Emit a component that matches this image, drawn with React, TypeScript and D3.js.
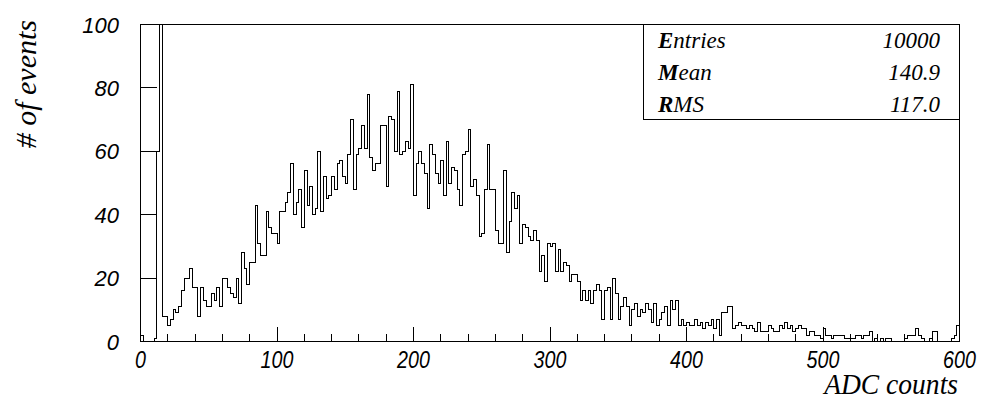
import React from "react";
import * as d3 from "d3";

// Histogram: 300 bins of width 2 on [0, 600]
const xRange = [0, 600];
const binWidth = 2;
const binCounts = [
  2, 0, 0, 0, 0, 1, 60, 3300, 8, 8,
  5, 7, 10, 9, 11, 16, 20, 20, 23, 17,
  17, 8, 17, 13, 11, 11, 15, 13, 17, 11,
  20, 20, 17, 15, 14, 20, 12, 28, 23, 18,
  25, 25, 43, 31, 27, 27, 41, 36, 34, 34,
  31, 41, 41, 44, 47, 56, 40, 44, 48, 36,
  54, 43, 49, 40, 42, 60, 41, 52, 45, 46,
  52, 48, 56, 57, 52, 50, 59, 70, 48, 59,
  61, 68, 61, 78, 58, 54, 56, 56, 68, 68,
  49, 71, 70, 60, 79, 59, 60, 63, 61, 81,
  46, 56, 60, 56, 53, 42, 62, 59, 53, 50,
  57, 46, 63, 50, 55, 54, 48, 43, 59, 60,
  67, 49, 51, 46, 33, 34, 48, 62, 48, 48,
  35, 31, 31, 54, 28, 38, 47, 42, 46, 31,
  37, 36, 33, 32, 35, 32, 22, 27, 19, 31,
  30, 31, 22, 29, 22, 25, 24, 19, 21, 21,
  19, 13, 16, 13, 16, 12, 16, 18, 16, 7,
  16, 17, 7, 20, 15, 7, 11, 14, 11, 5,
  10, 12, 8, 10, 9, 12, 10, 6, 12, 5,
  7, 9, 11, 5, 13, 10, 13, 5, 7, 5,
  6, 5, 5, 7, 5, 6, 4, 6, 5, 7,
  4, 7, 2, 9, 9, 11, 11, 4, 5, 6,
  5, 5, 4, 5, 4, 3, 6, 3, 3, 3,
  5, 4, 3, 3, 5, 4, 6, 4, 5, 3,
  4, 5, 4, 4, 2, 3, 3, 2, 2, 1,
  4, 2, 2, 1, 2, 2, 2, 2, 1, 1,
  1, 1, 2, 2, 1, 2, 2, 3, 0, 1,
  0, 1, 0, 1, 1, 0, 0, 0, 0, 0,
  1, 2, 2, 2, 4, 2, 1, 0, 0, 1,
  3, 3, 0, 0, 0, 0, 0, 1, 2, 5,
];

const yRange = [0, 100];
const xTickValues = [0, 100, 200, 300, 400, 500, 600];
const xMinorStep = 20;
const yTickValues = [0, 20, 40, 60, 80, 100];
const statNames = ["Entries", "Mean", "RMS"];
const statValues = ["10000", "140.9", "117.0"];
const xTitle = "ADC counts";
const yTitle = "# of events";

export default function App() {
  const W = 984;
  const H = 401;
  const left = 140.5;
  const right = 959.5;
  const top = 24.5;
  const bottom = 341.5;

  const x = d3.scaleLinear().domain(xRange).range([left, right]);
  const y = d3.scaleLinear().domain(yRange).range([bottom, top]);

  let path = `M${x(0)},${y(0)}`;
  binCounts.forEach((c, i) => {
    const x1 = x((i + 1) * binWidth);
    path += `V${y(c)}H${x1}`;
  });
  path += `V${y(0)}`;

  const minorTicks = d3.range(xRange[0], xRange[1] + 0.001, xMinorStep);

  const sansItalic = { fontFamily: "'Liberation Sans', Arial, sans-serif", fontStyle: "italic" as const };
  const serifItalic = { fontFamily: "'Liberation Serif', 'Times New Roman', serif", fontStyle: "italic" as const };

  const boxLeft = 643.5;
  const boxBottom = 119.5;
  const rowBase = [48, 80, 112];

  return (
    <svg
      width={W}
      height={H}
      viewBox={`0 0 ${W} ${H}`}
      style={{ position: "absolute", left: 0, top: 0, background: "#fff" }}
    >
      <rect x={0} y={0} width={W} height={H} fill="#fff" />
      <defs>
        <clipPath id="frameClip">
          <rect x={left} y={top} width={right - left} height={bottom - top} />
        </clipPath>
      </defs>

      {/* histogram */}
      <path
        d={path}
        fill="none"
        stroke="#000"
        strokeWidth={1}
        clipPath="url(#frameClip)"
        shapeRendering="crispEdges"
      />

      {/* frame */}
      <rect
        x={left}
        y={top}
        width={right - left}
        height={bottom - top}
        fill="none"
        stroke="#000"
        strokeWidth={1}
        shapeRendering="crispEdges"
      />

      {/* x ticks */}
      {minorTicks.map((v) => {
        const major = v % 100 === 0;
        return (
          <line
            key={`xt${v}`}
            x1={x(v)}
            x2={x(v)}
            y1={bottom}
            y2={bottom - (major ? 15 : 7.5)}
            stroke="#000"
            strokeWidth={1}
            shapeRendering="crispEdges"
          />
        );
      })}

      {/* y ticks */}
      {yTickValues.map((v) => (
        <line
          key={`yt${v}`}
          x1={left}
          x2={left + 16}
          y1={y(v)}
          y2={y(v)}
          stroke="#000"
          strokeWidth={1}
          shapeRendering="crispEdges"
        />
      ))}

      {/* x labels (condensed, as in the reference) */}
      {xTickValues.map((v) => (
        <text
          key={`xl${v}`}
          transform={`translate(${x(v)},368) scale(0.82,1)`}
          textAnchor="middle"
          fontSize={24}
          {...sansItalic}
        >
          {v}
        </text>
      ))}

      {/* y labels */}
      {yTickValues.map((v) => (
        <text key={`yl${v}`} x={119} y={y(v) + 8} textAnchor="end" fontSize={22} {...sansItalic}>
          {v}
        </text>
      ))}

      {/* axis titles */}
      <text
        transform="translate(958,394) scale(0.95,1)"
        textAnchor="end"
        fontSize={29}
        {...serifItalic}
      >
        {xTitle}
      </text>
      <text
        transform={`translate(36,20) rotate(-90)`}
        textAnchor="end"
        fontSize={30}
        {...serifItalic}
      >
        {yTitle}
      </text>

      {/* stats box */}
      <rect
        x={boxLeft}
        y={top}
        width={right - boxLeft}
        height={boxBottom - top}
        fill="#fff"
        stroke="#000"
        strokeWidth={1}
        shapeRendering="crispEdges"
      />
      {statNames.map((n, i) => (
        <text key={`sn${n}`} x={658} y={rowBase[i]} fontSize={23} {...serifItalic}>
          <tspan fontWeight="bold">{n[0]}</tspan>
          {n.slice(1)}
        </text>
      ))}
      {statValues.map((v, i) => (
        <text key={`sv${i}`} x={940} y={rowBase[i]} textAnchor="end" fontSize={23} {...serifItalic}>
          {v}
        </text>
      ))}
    </svg>
  );
}
